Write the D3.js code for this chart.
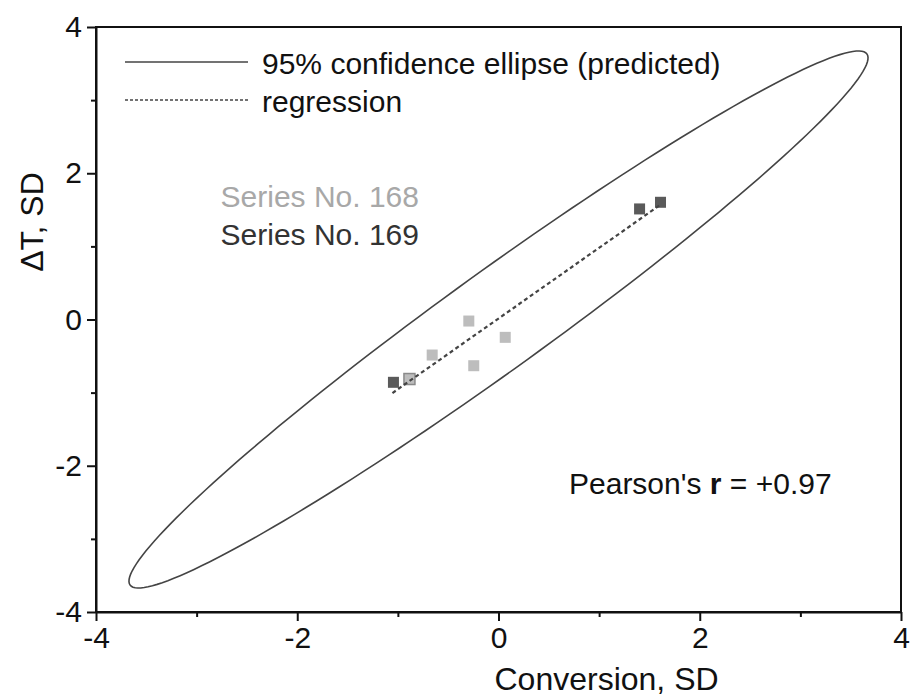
<!DOCTYPE html>
<html>
<head>
<meta charset="utf-8">
<script src="https://cdn.jsdelivr.net/npm/d3@7"></script>
<style>
  html, body { margin: 0; padding: 0; background: #fff; }
  svg { display: block; font-family: "Liberation Sans", Arial, sans-serif; }
</style>
</head>
<body>
<svg id="chart" width="911" height="700"></svg>
<script>
// Standardized values (SD units) for the two experimental series
const series168X = [-0.885, -0.659, -0.295, -0.246, 0.067];
const series168Y = [-0.814, -0.486, -0.021, -0.632, -0.244];
const series169X = [-1.044, 1.402, 1.610];
const series169Y = [-0.859, 1.512, 1.603];

const xTicks = [-4, -2, 0, 2, 4];
const yTicks = [-4, -2, 0, 2, 4];
const minorTicks = [-3, -1, 1, 3];

// 95% prediction ellipse: centre, semi-axes (SD units) and tilt of the major axis
const ellipseCenter = [0, 0];
const ellipseSemiMajor = 5.16;
const ellipseSemiMinor = 0.59;
const ellipseTiltDeg = 45;

const pearsonR = "+0.97";

const svg = d3.select("#chart");
const x = d3.scaleLinear().domain([-4, 4]).range([96, 901]);
const y = d3.scaleLinear().domain([-4, 4]).range([612, 27]);

// frame (top and right have no ticks)
svg.append("rect")
  .attr("x", x(-4)).attr("y", y(4))
  .attr("width", x(4) - x(-4)).attr("height", y(-4) - y(4))
  .attr("fill", "none").attr("stroke", "#111").attr("stroke-width", 2);

// axes with major and minor ticks
const tickFont = 30;
const labelFont = 30;
const titleFont = 32;
const plainNumber = d => String(d);
function styleAxis(g) {
  g.select(".domain").attr("stroke", "#111").attr("stroke-width", 2);
  g.selectAll(".tick line").attr("stroke", "#111").attr("stroke-width", 2);
  g.selectAll(".tick text").attr("fill", "#111")
    .style("font-size", tickFont + "px")
    .style("font-family", "'Liberation Sans', Arial, sans-serif");
}
const gx = svg.append("g").attr("transform", `translate(0,${y(-4)})`)
  .call(d3.axisBottom(x).tickValues(xTicks).tickSize(9).tickSizeOuter(0).tickPadding(6).tickFormat(plainNumber));
styleAxis(gx);
svg.append("g").attr("transform", `translate(0,${y(-4)})`)
  .call(d3.axisBottom(x).tickValues(minorTicks).tickSize(5).tickFormat(""))
  .call(g => { g.select(".domain").remove(); g.selectAll("line").attr("stroke", "#111").attr("stroke-width", 2); });

const gy = svg.append("g").attr("transform", `translate(${x(-4)},0)`)
  .call(d3.axisLeft(y).tickValues(yTicks).tickSize(9).tickSizeOuter(0).tickPadding(5).tickFormat(plainNumber));
styleAxis(gy);
svg.append("g").attr("transform", `translate(${x(-4)},0)`)
  .call(d3.axisLeft(y).tickValues(minorTicks).tickSize(5).tickFormat(""))
  .call(g => { g.select(".domain").remove(); g.selectAll("line").attr("stroke", "#111").attr("stroke-width", 2); });

// axis titles
svg.append("text")
  .attr("x", x(0) - 4).attr("y", 690)
  .attr("fill", "#111").style("font-size", titleFont + "px")
  .text("Conversion, SD");
svg.append("text")
  .attr("transform", `translate(43,222) rotate(-90)`)
  .attr("text-anchor", "middle")
  .attr("fill", "#111").style("font-size", titleFont + "px")
  .text("\u0394T, SD");

// confidence ellipse
const tilt = ellipseTiltDeg * Math.PI / 180;
const ellipsePts = d3.range(0, 361, 2).map(a => {
  const t = a * Math.PI / 180;
  const u = ellipseSemiMajor * Math.cos(t), v = ellipseSemiMinor * Math.sin(t);
  return [ellipseCenter[0] + u * Math.cos(tilt) - v * Math.sin(tilt),
          ellipseCenter[1] + u * Math.sin(tilt) + v * Math.cos(tilt)];
});
svg.append("path")
  .datum(ellipsePts)
  .attr("d", d3.line().x(d => x(d[0])).y(d => y(d[1])).curve(d3.curveLinearClosed))
  .attr("fill", "none").attr("stroke", "#444").attr("stroke-width", 1.6);

// least-squares regression over both series
const allX = series168X.concat(series169X);
const allY = series168Y.concat(series169Y);
const mx = d3.mean(allX), my = d3.mean(allY);
const slope = d3.sum(allX, (v, i) => (v - mx) * (allY[i] - my)) / d3.sum(allX, v => (v - mx) ** 2);
const intercept = my - slope * mx;
const [xLo, xHi] = d3.extent(allX);

// points
const size = 11;
const pts169 = series169X.map((v, i) => [v, series169Y[i]]);
const pts168 = series168X.map((v, i) => [v, series168Y[i]]);
svg.append("g").selectAll("rect").data(pts169).join("rect")
  .attr("x", d => x(d[0]) - size / 2).attr("y", d => y(d[1]) - size / 2)
  .attr("width", size).attr("height", size)
  .attr("fill", "#5a5a5a");
svg.append("g").selectAll("rect").data(pts168).join("rect")
  .attr("x", d => x(d[0]) - size / 2).attr("y", d => y(d[1]) - size / 2)
  .attr("width", size).attr("height", size)
  .attr("fill", "#bdbdbd")
  .attr("stroke", (d, i) => i === 0 ? "#8a8a8a" : "none")
  .attr("stroke-width", 1.5);

svg.append("line")
  .attr("x1", x(xLo - 0.01)).attr("y1", y(intercept + slope * (xLo - 0.01)))
  .attr("x2", x(xHi)).attr("y2", y(intercept + slope * xHi))
  .attr("stroke", "#444").attr("stroke-width", 2.2).attr("stroke-dasharray", "4,3");

// legend
const legend = svg.append("g");
legend.append("line").attr("x1", 125).attr("x2", 248).attr("y1", 62).attr("y2", 62)
  .attr("stroke", "#444").attr("stroke-width", 1.6);
legend.append("line").attr("x1", 125).attr("x2", 248).attr("y1", 100).attr("y2", 100)
  .attr("stroke", "#444").attr("stroke-width", 1.6).attr("stroke-dasharray", "3,2");
legend.append("text").attr("x", 262).attr("y", 74).attr("fill", "#111")
  .style("font-size", labelFont + "px").text("95% confidence ellipse (predicted)");
legend.append("text").attr("x", 262).attr("y", 112).attr("fill", "#111")
  .style("font-size", labelFont + "px").text("regression");
legend.append("text").attr("x", 419).attr("y", 207).attr("text-anchor", "end").attr("fill", "#a8a8a8")
  .style("font-size", labelFont + "px").text("Series No. 168");
legend.append("text").attr("x", 419).attr("y", 245).attr("text-anchor", "end").attr("fill", "#333")
  .style("font-size", labelFont + "px").text("Series No. 169");

// correlation annotation
const ann = svg.append("text").attr("x", 569).attr("y", 494).attr("fill", "#111")
  .style("font-size", labelFont + "px");
ann.append("tspan").text("Pearson's ");
ann.append("tspan").style("font-weight", "bold").text("r");
ann.append("tspan").text(" = " + pearsonR);
</script>
</body>
</html>
